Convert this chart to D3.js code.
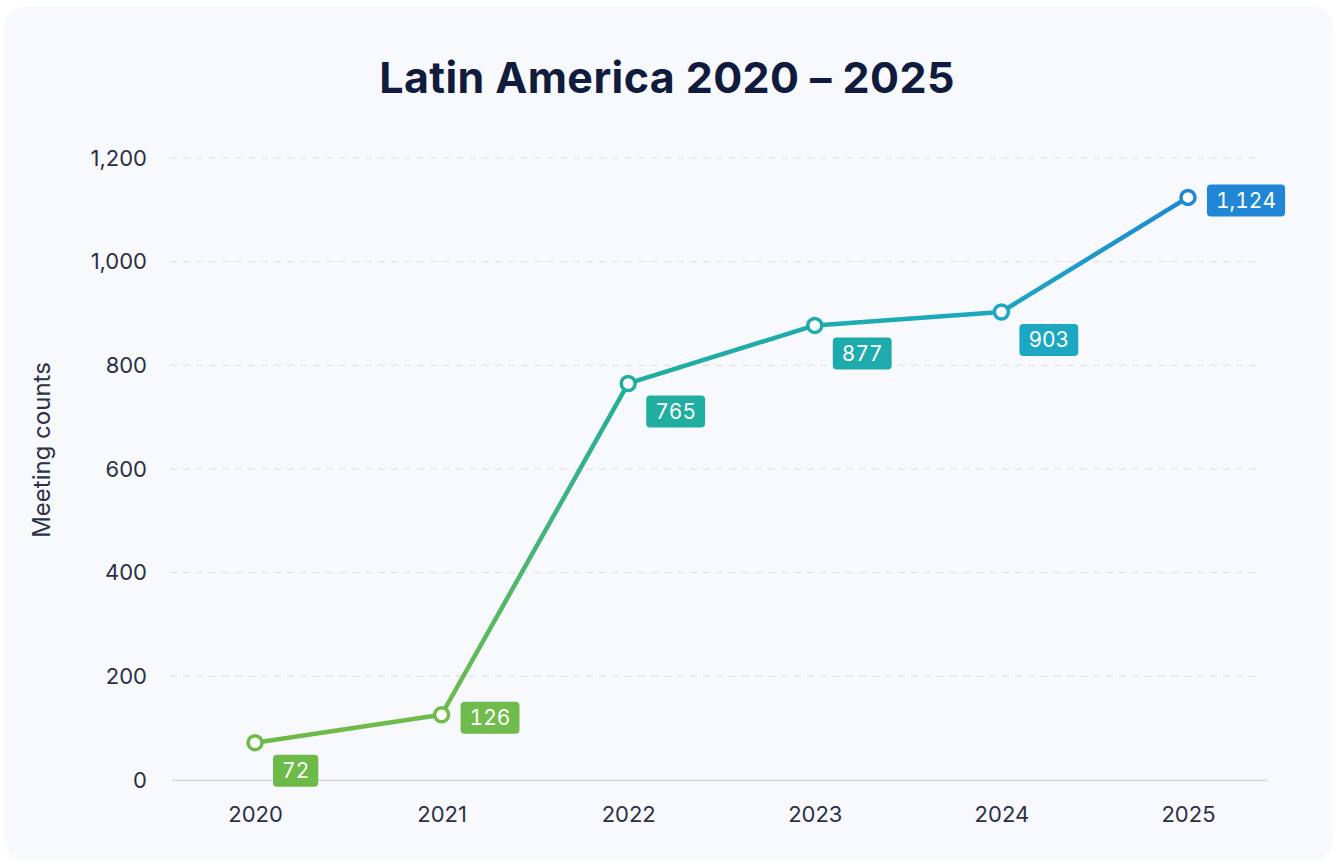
<!DOCTYPE html>
<html>
<head>
<meta charset="utf-8">
<script src="https://cdn.jsdelivr.net/npm/d3@7"></script>
<style>
  html, body { margin: 0; padding: 0; background: #ffffff; }
  svg { display: block; font-family: Inter, "Noto Sans", sans-serif; }
  .tag text { font-variant-numeric: tabular-nums; }
</style>
</head>
<body>
<svg id="chart" width="1337" height="865"></svg>
<script>
// data
var years = ["2020", "2021", "2022", "2023", "2024", "2025"];
var meetings = [72, 126, 765, 877, 903, 1124];
var yTicks = [0, 200, 400, 600, 800, 1000, 1200];
var labelColors = ["#6cbb48", "#6fbc4c", "#1fae9f", "#1eabad", "#1ca8c2", "#1f87d6"];
// where each value tag sits relative to its point: "below" or "right"
var labelSide = ["below", "right", "below", "below", "below", "right"];

var width = 1337, height = 865;
var margin = { top: 158, right: 70, bottom: 85, left: 172 };

var svg = d3.select("#chart");

svg.append("rect")
    .attr("x", 4).attr("y", 6)
    .attr("width", width - 8).attr("height", height - 10)
    .attr("rx", 22)
    .attr("fill", "#f8f9fc");

svg.append("text")
    .attr("x", 667).attr("y", 93)
    .attr("text-anchor", "middle")
    .attr("font-size", 43)
    .attr("font-weight", 700)
    .attr("letter-spacing", 0.4)
    .attr("fill", "#101b3d")
    .text("Latin America 2020 \u2013 2025");

var x = d3.scalePoint()
    .domain(years)
    .range([margin.left, width - 66])
    .padding(0.445);

var y = d3.scaleLinear()
    .domain([0, 1200])
    .range([height - margin.bottom, margin.top]);

// gridlines
svg.append("g")
    .selectAll("line")
    .data(yTicks.filter(function (d) { return d > 0; }))
    .enter().append("line")
    .attr("x1", 170).attr("x2", 1258)
    .attr("y1", function (d) { return y(d); })
    .attr("y2", function (d) { return y(d); })
    .attr("stroke", "#dadde5")
    .attr("stroke-width", 1)
    .attr("stroke-dasharray", "7,6");

// y axis (labels only)
var yAxis = svg.append("g")
    .attr("transform", "translate(" + 147 + ",0)")
    .call(d3.axisLeft(y).tickValues(yTicks).tickFormat(d3.format(",d")).tickSize(0).tickPadding(0));
yAxis.select(".domain").remove();
yAxis.selectAll("text")
    .attr("font-size", 22)
    .attr("font-family", "Inter, sans-serif")
    .attr("fill", "#2b3047");

// x axis
var xAxis = svg.append("g")
    .attr("transform", "translate(0," + y(0) + ")")
    .call(d3.axisBottom(x).tickSize(0).tickPadding(26));
xAxis.select(".domain")
    .attr("d", "M" + margin.left + ",0.5H" + (width - margin.right))
    .attr("stroke", "#d3d6dd")
    .attr("stroke-width", 1.5);
xAxis.selectAll("text")
    .attr("font-size", 22)
    .attr("font-family", "Inter, sans-serif")
    .attr("fill", "#2b3047");

svg.append("text")
    .attr("transform", "translate(50,450) rotate(-90)")
    .attr("text-anchor", "middle")
    .attr("font-size", 24)
    .attr("fill", "#2b3047")
    .text("Meeting counts");

// line gradient, green -> teal -> blue along x
var defs = svg.append("defs");
var grad = defs.append("linearGradient")
    .attr("id", "lineGrad")
    .attr("gradientUnits", "userSpaceOnUse")
    .attr("x1", x(years[0])).attr("x2", x(years[years.length - 1]))
    .attr("y1", 0).attr("y2", 0);
years.forEach(function (yr, i) {
    grad.append("stop")
        .attr("offset", (x(yr) - x(years[0])) / (x(years[years.length - 1]) - x(years[0])))
        .attr("stop-color", labelColors[i]);
});

var pts = years.map(function (yr, i) { return { year: yr, value: meetings[i], i: i }; });

svg.append("path")
    .datum(pts)
    .attr("fill", "none")
    .attr("stroke", "url(#lineGrad)")
    .attr("stroke-width", 4.5)
    .attr("stroke-linejoin", "round")
    .attr("d", d3.line()
        .x(function (d) { return x(d.year); })
        .y(function (d) { return y(d.value); }));

svg.append("g")
    .selectAll("circle")
    .data(pts)
    .enter().append("circle")
    .attr("cx", function (d) { return x(d.year); })
    .attr("cy", function (d) { return y(d.value); })
    .attr("r", 7)
    .attr("fill", "#ffffff")
    .attr("stroke", function (d) { return labelColors[d.i]; })
    .attr("stroke-width", 3.5);

// value tags
var fmt = d3.format(",d");
var tags = svg.append("g")
    .selectAll("g")
    .data(pts)
    .enter().append("g")
    .attr("class", "tag");

tags.each(function (d) {
    var g = d3.select(this);
    var t = g.append("text")
        .attr("font-size", 21)
        .attr("font-weight", 400)
        .attr("fill", "#ffffff")
        .attr("text-anchor", "middle")
        .text(fmt(d.value));
    var w = t.node().getComputedTextLength() + 18;
    var h = 32;
    var px = x(d.year), py = y(d.value);
    var bx, by;
    if (labelSide[d.i] === "right") {
        bx = px + 19; by = py - h / 2 + 3;
    } else {
        bx = px + 18; by = py + 12;
    }
    g.insert("rect", "text")
        .attr("x", bx).attr("y", by)
        .attr("width", w).attr("height", h)
        .attr("rx", 4)
        .attr("fill", labelColors[d.i]);
    t.attr("x", bx + w / 2).attr("y", by + h / 2 + 7.5);
});
</script>
</body>
</html>
